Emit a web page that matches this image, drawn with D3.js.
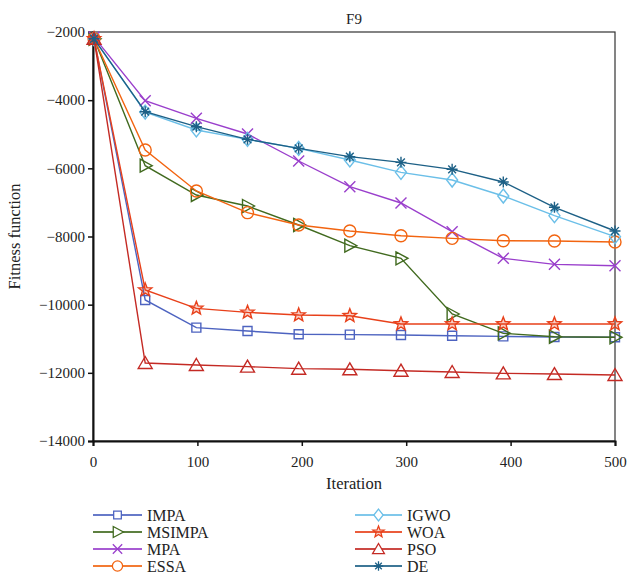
<!DOCTYPE html>
<html><head><meta charset="utf-8">
<script src="https://cdn.jsdelivr.net/npm/d3@7"></script>
<style>body{margin:0;background:#fff}svg{display:block}text{font-family:"Liberation Serif","DejaVu Serif",serif;fill:#222}</style>
</head><body><svg id="c" width="628" height="575"></svg>
<script>
const iterations = [1, 50, 99, 148, 197, 246, 295, 344, 393, 442, 500];
const IMPA   = [-2200, -9862, -10675, -10773, -10870, -10880, -10891, -10910, -10930, -10950, -10958];
const MSIMPA = [-2200, -5922, -6782, -7105, -7662, -8269, -8641, -10274, -10841, -10940, -10958];
const MPA    = [-2150, -4015, -4532, -4993, -5785, -6539, -7017, -7860, -8641, -8817, -8857];
const ESSA   = [-2200, -5462, -6665, -7300, -7662, -7839, -7977, -8055, -8123, -8132, -8161];
const IGWO   = [-2200, -4350, -4875, -5150, -5413, -5755, -6117, -6343, -6812, -7388, -8005];
const WOA    = [-2200, -9570, -10108, -10226, -10305, -10325, -10567, -10567, -10567, -10567, -10567];
const PSO    = [-2200, -11712, -11770, -11819, -11878, -11897, -11937, -11976, -12015, -12035, -12064];
const DE     = [-2200, -4338, -4778, -5150, -5413, -5658, -5824, -6029, -6400, -7143, -7839];
const names  = ["IMPA", "MSIMPA", "MPA", "ESSA", "IGWO", "WOA", "PSO", "DE"];
const xTicks = [0, 100, 200, 300, 400, 500];
const yTicks = [-2000, -4000, -6000, -8000, -10000, -12000, -14000];

const seriesVals = [IMPA, MSIMPA, MPA, ESSA, IGWO, WOA, PSO, DE];
const colors = ["#4d63c0", "#416a1f", "#9a3fcc", "#f26410", "#6bbfe8", "#e8401a", "#c42a24", "#1d6086"];
const shapes = ["square", "triR", "x", "circle", "diamond", "star", "triU", "asterisk"];

const svg = d3.select("#c");
const L = 93, R = 615, T = 32, B = 441;
const x = d3.scaleLinear().domain([0, 500]).range([L, R]);
const y = d3.scaleLinear().domain([-14000, -2000]).range([B, T]);

function markerPath(s) {
  switch (s) {
    case "square": return "M-4.5,-4.5H4.5V4.5H-4.5Z";
    case "triR": return "M-5,-6.5L7,0L-5,6.5Z";
    case "x": return "M-5.5,-5.5L5.5,5.5M-5.5,5.5L5.5,-5.5";
    case "circle": return "M6,0A6,6 0 1,1 -6,0A6,6 0 1,1 6,0Z";
    case "diamond": return "M0,-7L5.5,0L0,7L-5.5,0Z";
    case "triU": return "M0,-6.5L7,5.5L-7,5.5Z";
    case "star": {
      let p = [];
      for (let i = 0; i < 10; i++) {
        const r = i % 2 ? 3 : 7, a = -Math.PI / 2 + i * Math.PI / 5;
        p.push([r * Math.cos(a), r * Math.sin(a)]);
      }
      return "M" + p.map(d => d.join(",")).join("L") + "Z";
    }
    case "asterisk": {
      let s2 = "";
      for (let i = 0; i < 4; i++) {
        const a = i * Math.PI / 4, c = 5.5 * Math.cos(a), d = 5.5 * Math.sin(a);
        s2 += `M${-c},${-d}L${c},${d}`;
      }
      return s2;
    }
  }
}

// frame
svg.append("rect").attr("x", L).attr("y", T).attr("width", R - L).attr("height", B - T)
  .attr("fill", "none").attr("stroke", "#333").attr("stroke-width", 1.2);

// axes
const xa = svg.append("g").attr("transform", `translate(0,${B})`)
  .call(d3.axisBottom(x).tickValues(xTicks).tickSize(5).tickFormat(d3.format("d")));
const ya = svg.append("g").attr("transform", `translate(${L},0)`)
  .call(d3.axisLeft(y).tickValues(yTicks).tickSize(5).tickFormat(d3.format("d")));
[xa, ya].forEach(g => {
  g.select(".domain").attr("stroke", "#111").attr("stroke-width", 2);
  g.selectAll(".tick line").attr("stroke", "#111").attr("stroke-width", 1.5);
  g.selectAll(".tick text").style("font-size", "15px").attr("fill", "#222");
});
xa.selectAll(".tick text").attr("dy", "1.2em");
ya.selectAll(".tick text").attr("x", -8);

// labels
svg.append("text").attr("x", (L + R) / 2).attr("y", 24).attr("text-anchor", "middle").style("font-size", "15px").text("F9");
svg.append("text").attr("x", (L + R) / 2).attr("y", 489).attr("text-anchor", "middle").style("font-size", "16.5px").text("Iteration");
svg.append("text").attr("transform", `translate(20,${(T + B) / 2}) rotate(-90)`).attr("text-anchor", "middle").style("font-size", "16.5px").text("Fitness function");

const line = d3.line().x((d, i) => x(iterations[i])).y(d => y(d));
seriesVals.forEach((vals, k) => {
  const g = svg.append("g");
  g.append("path").attr("d", line(vals)).attr("fill", "none").attr("stroke", colors[k]).attr("stroke-width", 1.4);
  g.selectAll("path.m").data(vals).enter().append("path").attr("class", "m")
    .attr("transform", (d, i) => `translate(${x(iterations[i])},${y(d)})`)
    .attr("d", markerPath(shapes[k]))
    .attr("fill", shapes[k] === "star" ? "rgba(232,64,26,0.25)" : "none")
    .attr("stroke", colors[k]).attr("stroke-width", 1.4);
});

// legend
names.forEach((n, k) => {
  const col = Math.floor(k / 4), row = k % 4;
  const x0 = col ? 355 : 93, x1 = col ? 402 : 142, yy = 515 + row * 17;
  const g = svg.append("g");
  g.append("line").attr("x1", x0).attr("x2", x1).attr("y1", yy).attr("y2", yy)
    .attr("stroke", colors[k]).attr("stroke-width", 2).attr("opacity", 0.85);
  g.append("path").attr("transform", `translate(${(x0 + x1) / 2},${yy}) scale(0.85)`)
    .attr("d", markerPath(shapes[k])).attr("fill", shapes[k] === "star" ? "rgba(232,64,26,0.25)" : "#fff")
    .attr("stroke", colors[k]).attr("stroke-width", 1.5);
  g.append("text").attr("x", x1 + 5).attr("y", yy).attr("dy", "0.35em").style("font-size", "16px").text(n);
});
</script></body></html>
